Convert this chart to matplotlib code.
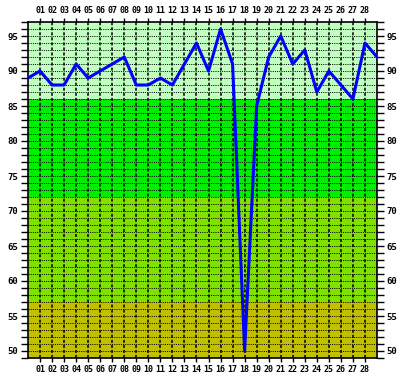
import matplotlib
matplotlib.use("Agg")
import matplotlib.pyplot as plt

# daily values, day 0 .. 29 (0 and 29 are the partial edges)
days = list(range(0, 30))
values = [89, 90, 88, 88, 91, 89, 90, 91, 92, 88,
          88, 89, 88, 91, 94, 90, 96, 91, 50, 85,
          92, 95, 91, 93, 87, 90, 88, 86, 94, 92]
tick_days = list(range(1, 29))
tick_labels = [f"{d:02d}" for d in tick_days]

# background bands (low, high, colour)
band_edges = [49, 57, 72, 86, 97]
band_colors = ["#c0c000", "#80e000", "#00ee00", "#c0ffc0"]

fig = plt.figure(figsize=(4.05, 3.81), dpi=100)
ax = fig.add_axes([28 / 405, 23 / 381, 349 / 405, 336 / 381])

for lo, hi, c in zip(band_edges[:-1], band_edges[1:], band_colors):
    ax.axhspan(lo, hi, color=c, zorder=0, lw=0)

# grid: dotted rows, dashed columns
for y in range(50, 97):
    ax.axhline(y, color="black", lw=0.72, ls=(0, (1, 1.2)), zorder=1)
for d in tick_days:
    ax.axvline(d, color="black", lw=1.1, ls=(0, (2, 1.3)), zorder=1)

ax.plot(days, values, color="#0000ff", lw=2.2, zorder=3)

ax.set_xlim(0, 29)
ax.set_ylim(49, 97)

ax.set_xticks(tick_days)
ax.set_xticklabels(tick_labels)
ax.set_yticks(range(50, 100, 5))
ax.set_yticks(range(49, 98), minor=True)

ax.tick_params(axis="x", which="both", top=True, bottom=True,
               labeltop=True, labelbottom=True, direction="out", length=3,
               width=1, pad=2, labelsize=6)
ax.tick_params(axis="y", which="both", left=True, right=True,
               labelleft=True, labelright=True, direction="out", length=5,
               width=1, pad=2, labelsize=6.5)
for lab in ax.get_xticklabels() + ax.get_yticklabels():
    lab.set_fontfamily("DejaVu Sans Mono")
    lab.set_fontweight("bold")

for s in ax.spines.values():
    s.set_linewidth(1.2)
    s.set_color("black")

fig.savefig("out.png", dpi=100)
plt.close(fig)
